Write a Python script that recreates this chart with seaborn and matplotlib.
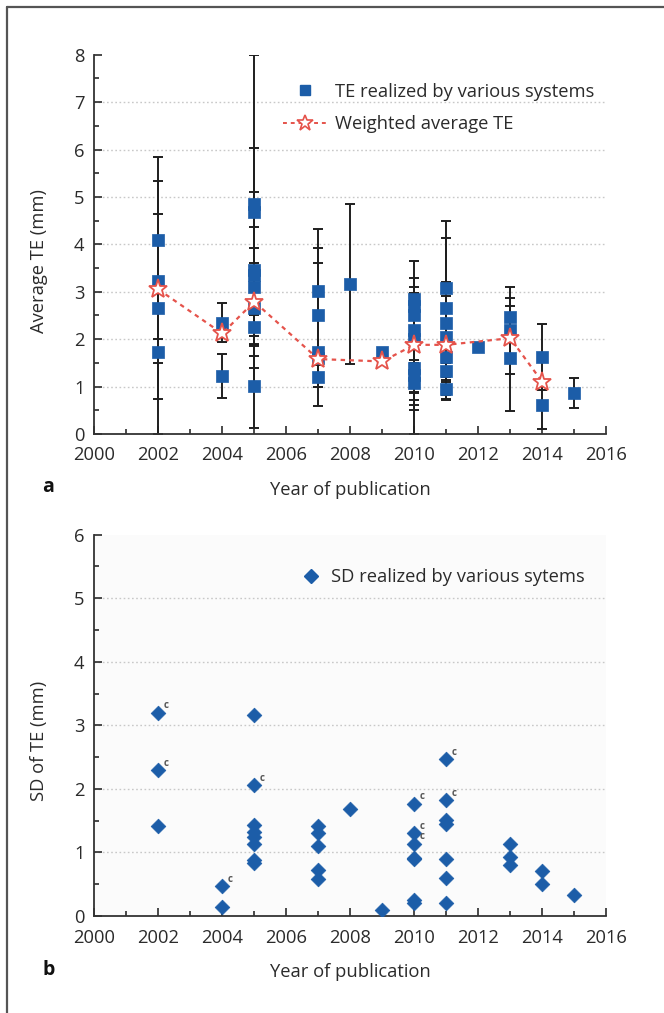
import numpy as np
import pandas as pd
import matplotlib
matplotlib.use("Agg")
import matplotlib.pyplot as plt
from matplotlib.lines import Line2D
from matplotlib.ticker import MultipleLocator
import seaborn as sns

# ---------------- data: panel a ----------------
te_year = [2002, 2002, 2002, 2002,
           2004, 2004,
           2005, 2005, 2005, 2005, 2005, 2005, 2005, 2005,
           2007, 2007, 2007, 2007, 2007,
           2008, 2009,
           2010, 2010, 2010, 2010, 2010, 2010, 2010, 2010,
           2011, 2011, 2011, 2011, 2011, 2011, 2011,
           2012,
           2013, 2013, 2013,
           2014, 2014,
           2015]
te_val = [4.10, 3.22, 2.65, 1.72,
          2.35, 1.22,
          4.85, 4.69, 3.46, 3.35, 3.11, 2.65, 2.25, 1.02,
          3.02, 2.51, 1.72, 1.60, 1.21,
          3.16, 1.72,
          2.85, 2.70, 2.50, 2.20, 2.00, 1.40, 1.25, 1.08,
          3.07, 2.65, 2.35, 2.05, 1.63, 1.32, 0.94,
          1.83,
          2.47, 2.19, 1.60,
          1.62, 0.61,
          0.87]
te_low = [2.70, 0.74, 0.00, 1.50,
          1.95, 0.75,
          1.65, 3.40, 1.88, 2.07, 1.85, 0.93, 1.39, 0.13,
          1.72, 1.00, 1.45, 0.60, 1.00,
          1.47, 1.62,
          0.00, 0.51, 0.61, 0.72, 0.89, 1.10, 1.00, 0.86,
          1.65, 0.83, 1.50, 1.10, 1.20, 0.72, 0.74,
          1.83,
          1.67, 1.26, 0.49,
          0.92, 0.10,
          0.55]
te_high = [5.34, 5.85, 4.63, 2.00,
           2.76, 1.69,
           8.00, 6.03, 5.11, 4.36, 3.92, 3.61, 2.50, 1.90,
           4.32, 3.92, 3.61, 2.50, 1.50,
           4.85, 1.82,
           3.65, 3.30, 3.09, 2.97, 2.86, 1.56, 1.49, 1.35,
           4.50, 4.14, 3.20, 2.90, 2.10, 1.90, 1.14,
           1.83,
           2.86, 3.09, 2.69,
           2.31, 1.11,
           1.19]

wa_year = [2002, 2004, 2005, 2007, 2009, 2010, 2011, 2013, 2014]
wa_val = [3.05, 2.12, 2.79, 1.58, 1.53, 1.88, 1.88, 2.02, 1.10]

# ---------------- data: panel b ----------------
sd_year = [2002, 2002, 2002,
           2004, 2004,
           2005, 2005, 2005, 2005, 2005, 2005, 2005, 2005,
           2007, 2007, 2007, 2007, 2007,
           2008, 2009,
           2010, 2010, 2010, 2010, 2010, 2010, 2010,
           2011, 2011, 2011, 2011, 2011, 2011, 2011,
           2013, 2013, 2013,
           2014, 2014,
           2015]
sd_val = [3.20, 2.30, 1.42,
          0.47, 0.15,
          3.16, 2.06, 1.43, 1.33, 1.25, 1.14, 0.88, 0.83,
          1.42, 1.30, 1.10, 0.72, 0.59,
          1.69, 0.10,
          1.77, 1.30, 1.14, 0.92, 0.90, 0.25, 0.21,
          2.47, 1.83, 1.51, 1.45, 0.90, 0.60, 0.20,
          1.13, 0.93, 0.80,
          0.71, 0.51,
          0.33]
sd_note = ["c", "c", "",
           "c", "",
           "", "c", "", "", "", "", "", "",
           "", "", "", "", "",
           "", "",
           "c", "c", "c", "", "", "", "",
           "c", "c", "", "", "", "", "",
           "", "", "",
           "", "",
           ""]

BLUE = "#1c5da8"
RED = "#e5534b"
TXT = "#2b2b2b"
FS = 13.2

sns.set_style("ticks")
plt.rcParams["font.family"] = ["Open Sans", "DejaVu Sans"]
plt.rcParams["text.color"] = TXT
plt.rcParams["axes.labelcolor"] = TXT
plt.rcParams["xtick.color"] = TXT
plt.rcParams["ytick.color"] = TXT

fig = plt.figure(figsize=(6.64, 10.13), dpi=100)
ax1 = fig.add_axes([0.142, 0.5716, 0.771, 0.3744])
ax2 = fig.add_axes([0.142, 0.0957, 0.771, 0.3765])

df_te = pd.DataFrame({"year": te_year, "val": te_val, "lo": te_low, "hi": te_high})
df_wa = pd.DataFrame({"year": wa_year, "val": wa_val})
df_sd = pd.DataFrame({"year": sd_year, "val": sd_val, "note": sd_note})


def style_axis(ax, ymax):
    ax.set_xlim(2000, 2016)
    ax.set_ylim(0, ymax)
    ax.xaxis.set_major_locator(MultipleLocator(2))
    ax.xaxis.set_minor_locator(MultipleLocator(1))
    ax.yaxis.set_major_locator(MultipleLocator(1))
    ax.yaxis.set_minor_locator(MultipleLocator(0.5))
    ax.tick_params(axis="both", which="major", direction="in", length=5.5,
                   width=1.2, labelsize=FS)
    ax.tick_params(axis="x", which="major", pad=9)
    ax.tick_params(axis="y", which="major", pad=7)
    ax.tick_params(axis="both", which="minor", direction="in", length=3.5,
                   width=1.2)
    for s in ["top", "right"]:
        ax.spines[s].set_visible(False)
    for s in ["left", "bottom"]:
        ax.spines[s].set_color("#333333")
        ax.spines[s].set_linewidth(1.3)
    for yv in range(1, ymax):
        ax.axhline(yv, color="#c8c8c8", lw=1.0, ls=(0, (1.2, 1.8)), zorder=0)
    ax.set_xlabel("Year of publication", fontsize=FS, labelpad=12)


# ---- panel a ----
ax1.errorbar(df_te["year"], df_te["val"],
             yerr=[df_te["val"] - df_te["lo"], df_te["hi"] - df_te["val"]],
             fmt="none", ecolor="#1e1e1e", elinewidth=1.4, capsize=3.5,
             capthick=1.4, zorder=2, clip_on=True)
sns.scatterplot(data=df_te, x="year", y="val", marker="s", s=72, color=BLUE,
                edgecolor=BLUE, linewidth=0.5, ax=ax1, zorder=3,
                label="TE realized by various systems")
sns.lineplot(data=df_wa, x="year", y="val", ax=ax1, color=RED, lw=1.6,
             dashes=False, marker="*", markersize=14, markerfacecolor="white",
             markeredgecolor=RED, markeredgewidth=1.3, zorder=4,
             label="Weighted average TE")
for ln in ax1.get_lines():
    if ln.get_marker() == "*":
        ln.set_linestyle((0, (2.0, 2.0)))
style_axis(ax1, 8)
ax1.set_ylabel("Average TE (mm)", fontsize=FS)
ax1.yaxis.set_label_coords(-0.09, 0.455)

leg_handles = [
    Line2D([], [], marker="s", ls="none", color=BLUE, markersize=7.5),
    Line2D([], [], marker="*", color=RED, ls=(0, (2.0, 2.0)), lw=1.4,
           markersize=12, markerfacecolor="white", markeredgecolor=RED,
           markeredgewidth=1.2),
]
ax1.legend(leg_handles, ["TE realized by various systems", "Weighted average TE"],
           loc="upper left", bbox_to_anchor=(0.369, 0.926), frameon=False,
           fontsize=FS, handlelength=2.4, handletextpad=0.45, labelspacing=0.8,
           borderpad=0, borderaxespad=0)

# ---- panel b ----
ax2.set_facecolor("#fbfbfb")
sns.scatterplot(data=df_sd, x="year", y="val", marker="D", s=56, color=BLUE,
                edgecolor=BLUE, linewidth=0.5, ax=ax2, zorder=3,
                label="SD realized by various sytems")
for yr, v, n in zip(sd_year, sd_val, sd_note):
    if n:
        ax2.annotate(n, (yr, v), xytext=(4, 3), textcoords="offset points",
                     fontsize=7, color="#555555", fontweight="bold")
style_axis(ax2, 6)
ax2.set_ylabel("SD of TE (mm)", fontsize=FS)
ax2.yaxis.set_label_coords(-0.09, 0.46)
ax2.legend([Line2D([], [], marker="D", ls="none", color=BLUE, markersize=7.5)],
           ["SD realized by various sytems"],
           loc="upper left", bbox_to_anchor=(0.400, 0.912), frameon=False,
           fontsize=FS, handlelength=1.3, handletextpad=0.45,
           borderpad=0, borderaxespad=0)

# panel letters
fig.text(42 / 664, 1 - 487 / 1013, "a", fontsize=14, fontweight="bold",
         ha="left", va="center", color="#111111")
fig.text(42 / 664, 1 - 970 / 1013, "b", fontsize=14, fontweight="bold",
         ha="left", va="center", color="#111111")

# frame (top and left edges)
fig.add_artist(Line2D([7 / 664, 7 / 664], [0, 1 - 7 / 1013],
                      transform=fig.transFigure, color="#555555", lw=1.6))
fig.add_artist(Line2D([7 / 664, 1], [1 - 7 / 1013, 1 - 7 / 1013],
                      transform=fig.transFigure, color="#555555", lw=1.6))

fig.savefig("out.png", dpi=100, facecolor="white")
